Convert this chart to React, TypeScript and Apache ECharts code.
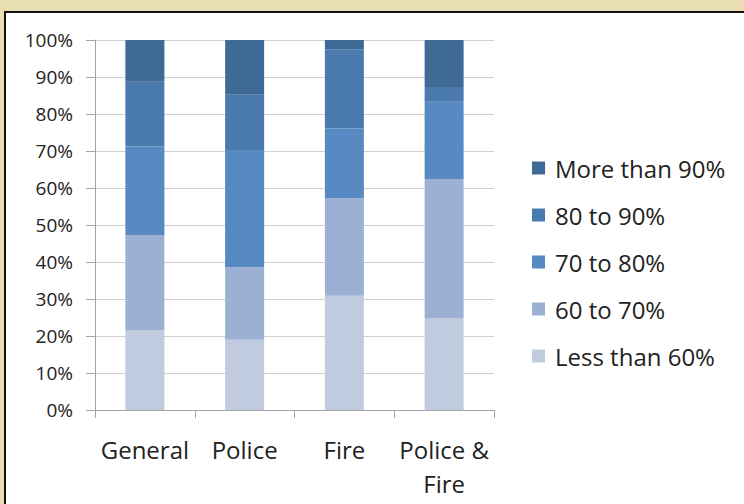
import React, { useEffect, useRef } from "react";
import * as echarts from "echarts";

const categories = ["General", "Police", "Fire", "Police &\nFire"];
const seriesNames = ["Less than 60%", "60 to 70%", "70 to 80%", "80 to 90%", "More than 90%"];
const lessThan60 = [21.6, 19.0, 30.9, 24.7];
const from60to70 = [25.7, 19.6, 26.3, 37.7];
const from70to80 = [23.9, 31.7, 18.9, 20.9];
const from80to90 = [17.5, 14.9, 21.4, 4.0];
const moreThan90 = [11.3, 14.8, 2.5, 12.7];
const seriesColors = ["#c0cbe0", "#9cb0d4", "#5789c3", "#4a7aae", "#406a96"];

export default function App() {
  const ref = useRef<HTMLDivElement>(null);
  useEffect(() => {
    if (!ref.current) return;
    const chart = echarts.init(ref.current, null, { renderer: "svg" });
    const values = [lessThan60, from60to70, from70to80, from80to90, moreThan90];
    const font = "'Open Sans', sans-serif";
    chart.setOption({
      animation: false,
      backgroundColor: "#e8ddb3",
      textStyle: { fontFamily: font },
      graphic: [
        {
          type: "rect",
          z: -10,
          silent: true,
          shape: { x: 5, y: 12, width: 745, height: 500 },
          style: { fill: "#ffffff", stroke: "#111111", lineWidth: 2 },
        },
      ],
      grid: { left: 95, top: 40, right: 250, bottom: 94, containLabel: false },
      xAxis: {
        type: "category",
        data: categories,
        axisLine: { lineStyle: { color: "#a6a6a6", width: 1 } },
        axisTick: { show: true, length: 8, lineStyle: { color: "#a6a6a6" } },
        axisLabel: {
          margin: 22,
          fontSize: 24,
          lineHeight: 34,
          color: "#222222",
          fontFamily: font,
          interval: 0,
        },
      },
      yAxis: {
        type: "value",
        min: 0,
        max: 100,
        interval: 10,
        axisLine: { show: true, lineStyle: { color: "#a6a6a6", width: 1 } },
        axisTick: { show: true, length: 9, lineStyle: { color: "#a6a6a6" } },
        splitLine: { lineStyle: { color: "#cfcfcf", width: 1 } },
        axisLabel: {
          formatter: "{value}%",
          margin: 22,
          fontSize: 19,
          color: "#222222",
          fontFamily: font,
        },
      },
      legend: {
        orient: "vertical",
        left: 527,
        top: 150,
        icon: "rect",
        itemWidth: 13,
        itemHeight: 13,
        itemGap: 21,
        data: seriesNames.slice().reverse(),
        textStyle: {
          fontSize: 24,
          lineHeight: 26,
          color: "#222222",
          fontFamily: font,
          padding: [0, 0, 0, 5],
        },
      },
      series: seriesNames.map((name, i) => ({
        name,
        type: "bar",
        stack: "total",
        barWidth: 39,
        data: values[i],
        itemStyle: { color: seriesColors[i] },
      })),
    });
    return () => chart.dispose();
  }, []);
  return (
    <div
      ref={ref}
      style={{ position: "absolute", left: 0, top: 0, width: 744, height: 504 }}
    />
  );
}
